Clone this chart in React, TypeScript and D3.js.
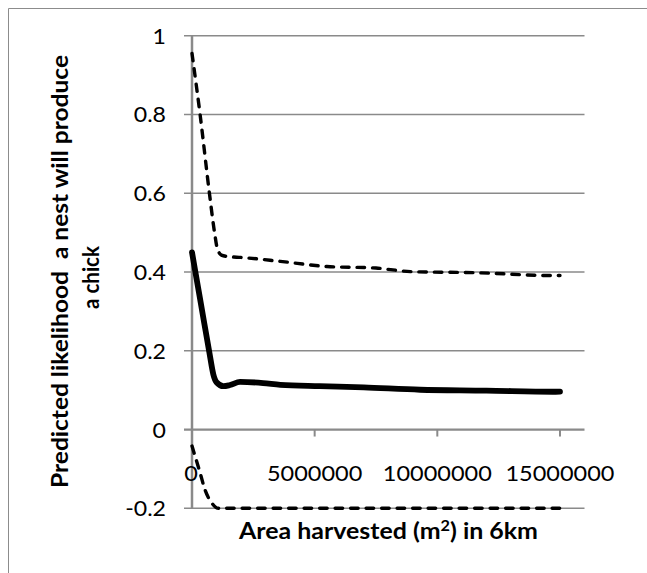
import React from 'react';
import * as d3 from 'd3';

// ---- data (x in m², y = predicted likelihood) ----
const yTicks = [-0.2, 0, 0.2, 0.4, 0.6, 0.8, 1];
const xTicks = [0, 5000000, 10000000, 15000000];

const meanX = [0, 250000, 500000, 710000, 870000, 1000000, 1280000, 1550000, 1960000, 2900000, 3600000, 5200000, 7000000, 9300000, 12000000, 14700000, 15000000];
const meanY = [0.45, 0.36, 0.27, 0.195, 0.14, 0.12, 0.11, 0.113, 0.121, 0.118, 0.1135, 0.11, 0.107, 0.101, 0.099, 0.096, 0.0965];

const upperX = [0, 330000, 710000, 920000, 1030000, 1200000, 1500000, 2000000, 3600000, 5500000, 7500000, 8100000, 8900000, 11700000, 14700000, 15000000];
const upperY = [0.955, 0.8, 0.6, 0.5, 0.46, 0.443, 0.439, 0.437, 0.427, 0.414, 0.41, 0.406, 0.401, 0.398, 0.391, 0.391];

const lowerX = [0, 330000, 530000, 800000, 1070000, 15000000];
const lowerY = [-0.042, -0.11, -0.153, -0.186, -0.2, -0.2];

const xTitle = 'Area harvested (m';
const yTitle1 = 'Predicted likelihood  a nest will produce';
const yTitle2 = 'a chick';

const FONT = 'Lato, "Open Sans", sans-serif';

export default function App() {
  const W = 647;
  const H = 573;
  const x = d3.scaleLinear().domain([0, 16000000]).range([192, 584.5]);
  const y = d3.scaleLinear().domain([-0.2, 1]).range([508.3, 35.7]);

  const line = d3
    .line<[number, number]>()
    .x((d) => x(d[0]))
    .y((d) => y(d[1]))
    .curve(d3.curveMonotoneX);

  const zip = (a: number[], b: number[]) => a.map((v, i) => [v, b[i]] as [number, number]);

  const gridColor = '#8a8a8a';

  return (
    <svg
      width={W}
      height={H}
      style={{ position: 'absolute', left: 0, top: 0, background: '#fff' }}
      fontFamily={FONT}
    >
      <rect x={0} y={0} width={W} height={H} fill="#fff" />
      {/* outer chart frame */}
      <line x1={8.5} y1={8.5} x2={W} y2={8.5} stroke="#8c8c8c" strokeWidth={1} />
      <line x1={8.5} y1={8.5} x2={8.5} y2={H} stroke="#8c8c8c" strokeWidth={1} />

      {/* gridlines + ticks */}
      {yTicks.map((t) => (
        <line
          key={'g' + t}
          x1={184}
          x2={x(16000000)}
          y1={y(t)}
          y2={y(t)}
          stroke={gridColor}
          strokeWidth={t === 0 ? 2.2 : 1.6}
        />
      ))}
      {/* y axis */}
      <line x1={x(0)} x2={x(0)} y1={y(1)} y2={y(-0.2)} stroke={gridColor} strokeWidth={2.5} />
      {/* x tick marks */}
      {xTicks.map((t) => (
        <line key={'xt' + t} x1={x(t)} x2={x(t)} y1={y(0)} y2={y(0) + 7} stroke={gridColor} strokeWidth={2} />
      ))}

      {/* y tick labels */}
      {yTicks.map((t) => (
        <text
          key={'yl' + t}
          transform={`translate(166,${y(t) + 8}) scale(1.1,1)`}
          textAnchor="end"
          fontSize={21}
          fill="#000"
        >
          {String(t)}
        </text>
      ))}
      {/* x tick labels */}
      {xTicks.map((t) => (
        <text
          key={'xl' + t}
          transform={`translate(${x(t) - (t === 0 ? 1 : 0)},480.5) scale(1.12,1)`}
          textAnchor="middle"
          fontSize={21}
          fill="#000"
        >
          {String(t)}
        </text>
      ))}

      {/* series */}
      <path
        d={line(zip(upperX, upperY)) || ''}
        fill="none"
        stroke="#000"
        strokeWidth={3.4}
        strokeDasharray="7.5 8"
        strokeLinecap="round"
      />
      <path
        d={line(zip(lowerX, lowerY)) || ''}
        fill="none"
        stroke="#000"
        strokeWidth={3.4}
        strokeDasharray="7.5 8"
        strokeLinecap="round"
      />
      <path
        d={line(zip(meanX, meanY)) || ''}
        fill="none"
        stroke="#000"
        strokeWidth={5.8}
        strokeLinecap="round"
        strokeLinejoin="round"
      />

      {/* x axis title */}
      <text
        x={388.5}
        y={539.3}
        textAnchor="middle"
        fontSize={23}
        fontWeight="bold"
        fill="#000"
        textLength={299}
        lengthAdjust="spacingAndGlyphs"
      >
        {xTitle}
        <tspan fontSize={15} dy={-8}>2</tspan>
        <tspan dy={8}>) in 6km</tspan>
      </text>

      {/* y axis title */}
      <text
        transform="translate(67.5,271.5) rotate(-90)"
        textAnchor="middle"
        fontSize={23}
        fontWeight="bold"
        fill="#000"
        textLength={433}
        lengthAdjust="spacingAndGlyphs"
        style={{ whiteSpace: 'pre' }}
      >
        {yTitle1}
      </text>
      <text
        transform="translate(98.5,277.5) rotate(-90)"
        textAnchor="middle"
        fontSize={23}
        fontWeight="bold"
        fill="#000"
        textLength={63}
        lengthAdjust="spacingAndGlyphs"
      >
        {yTitle2}
      </text>
    </svg>
  );
}
